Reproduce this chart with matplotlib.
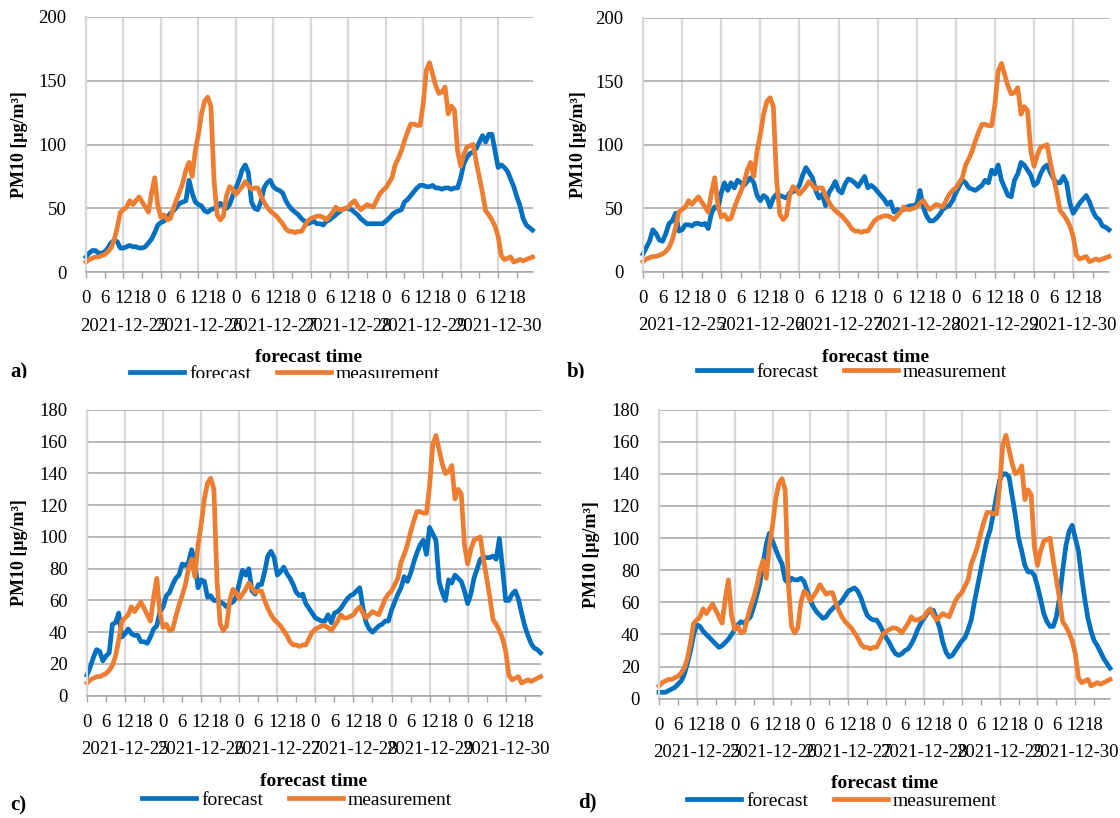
import numpy as np
import matplotlib
matplotlib.use("Agg")
import matplotlib.pyplot as plt
from matplotlib.patches import Rectangle

plt.rcParams['font.family'] = ['Liberation Serif', 'DejaVu Serif']

# hourly PM10 values, 2021-12-25 00:00 .. 2021-12-30 23:00
hours = np.arange(144)
days = ['2021-12-25', '2021-12-26', '2021-12-27', '2021-12-28', '2021-12-29', '2021-12-30']
hour_labels = ['0', '6', '12', '18']

measurement = [
    8, 10, 11, 12, 12, 13, 14, 16, 19, 25, 35, 47, 49, 51, 56, 53, 56, 59, 55, 51, 47, 62, 74, 52,
    43, 45, 41, 42, 50, 57, 63, 70, 80, 86, 75, 95, 108, 124, 134, 137, 130, 72, 45, 41, 44, 60, 67, 65,
    61, 64, 67, 71, 68, 65, 66, 66, 60, 55, 51, 48, 46, 44, 41, 38, 34, 32, 32, 31, 32, 32, 36, 40,
    42, 43, 44, 44, 43, 41, 44, 47, 51, 49, 49, 50, 51, 54, 56, 52, 49, 51, 53, 52, 51, 56, 61, 64,
    66, 70, 74, 84, 89, 95, 103, 110, 116, 116, 115, 115, 132, 158, 164, 155, 146, 140, 141, 145, 124, 130, 127, 95,
    83, 92, 98, 99, 100, 86, 74, 62, 48, 45, 41, 36, 28, 13, 10, 11, 12, 8, 9, 10, 9, 10, 11, 12,
]

forecast_a = [
    12, 15, 17, 17, 15, 15, 16, 19, 23, 25, 24, 19, 19, 20, 21, 20, 20, 19, 19, 20, 23, 26, 31, 37,
    39, 40, 43, 46, 48, 51, 54, 55, 56, 72, 62, 55, 53, 52, 48, 47, 49, 50, 51, 54, 52, 50, 53, 60,
    66, 72, 80, 84, 78, 55, 50, 49, 55, 66, 70, 72, 67, 65, 64, 62, 56, 52, 49, 47, 45, 42, 40, 38,
    39, 40, 38, 38, 37, 40, 41, 43, 45, 47, 49, 50, 50, 49, 47, 45, 42, 40, 38, 38, 38, 38, 38, 38,
    40, 42, 45, 47, 48, 49, 55, 57, 60, 63, 66, 68, 68, 67, 67, 68, 66, 66, 65, 66, 66, 65, 66, 66,
    74, 85, 90, 93, 94, 97, 102, 107, 102, 108, 108, 95, 82, 84, 82, 79, 73, 67, 59, 52, 42, 37, 35, 33,
]

forecast_b = [
    14, 19, 24, 33, 30, 25, 24, 30, 38, 40, 46, 32, 33, 37, 37, 36, 38, 38, 37, 38, 34, 46, 51, 50,
    62, 70, 64, 70, 66, 72, 70, 68, 71, 74, 70, 60, 56, 60, 58, 51, 58, 61, 60, 59, 58, 62, 63, 64,
    68, 76, 82, 78, 74, 64, 58, 61, 52, 62, 66, 71, 64, 62, 69, 73, 72, 70, 67, 71, 75, 66, 68, 66,
    63, 60, 57, 53, 55, 47, 49, 48, 49, 51, 52, 52, 53, 64, 51, 44, 40, 40, 42, 45, 49, 51, 52, 56,
    62, 67, 72, 70, 66, 65, 64, 66, 68, 72, 70, 80, 77, 84, 72, 66, 60, 59, 72, 77, 86, 84, 80, 76,
    68, 70, 77, 82, 84, 78, 73, 70, 70, 75, 70, 54, 46, 50, 54, 57, 60, 55, 48, 43, 41, 36, 35, 33,
]

forecast_c = [
    13, 18, 24, 29, 28, 22, 25, 27, 45, 46, 52, 37, 39, 42, 39, 38, 38, 34, 34, 33, 37, 42, 44, 53,
    56, 63, 65, 70, 74, 76, 83, 82, 84, 92, 84, 68, 73, 72, 62, 63, 60, 60, 59, 58, 56, 58, 59, 62,
    71, 79, 76, 80, 66, 64, 70, 70, 78, 88, 91, 87, 76, 78, 81, 77, 74, 70, 65, 63, 64, 58, 55, 52,
    49, 48, 47, 47, 51, 46, 52, 53, 55, 58, 61, 63, 64, 66, 68, 55, 46, 42, 40, 42, 44, 45, 47, 47,
    54, 59, 64, 68, 75, 72, 77, 84, 90, 95, 98, 89, 106, 102, 98, 72, 65, 60, 73, 71, 76, 74, 72, 66,
    58, 64, 74, 80, 86, 87, 87, 87, 88, 86, 99, 80, 60, 60, 64, 66, 61, 52, 44, 38, 33, 30, 29, 27,
]

forecast_d = [
    4, 4, 4, 5, 6, 7, 9, 11, 15, 22, 30, 40, 46, 45, 42, 40, 38, 36, 34, 32, 33, 35, 37, 40,
    43, 46, 48, 47, 49, 51, 57, 64, 72, 84, 96, 103, 98, 93, 88, 84, 74, 72, 75, 74, 74, 75, 73, 67,
    61, 57, 54, 52, 50, 51, 54, 56, 58, 59, 61, 64, 67, 68, 69, 67, 63, 57, 52, 50, 49, 49, 46, 42,
    38, 35, 31, 28, 27, 28, 30, 31, 34, 38, 43, 47, 50, 53, 55, 55, 50, 44, 35, 29, 26, 27, 30, 33,
    36, 38, 43, 49, 60, 70, 80, 90, 99, 105, 115, 126, 136, 140, 140, 138, 126, 114, 100, 92, 83, 79, 79, 77,
    70, 62, 53, 48, 45, 45, 51, 63, 80, 95, 104, 108, 100, 92, 76, 62, 50, 42, 36, 33, 29, 25, 22, 19,
]

BLUE = '#0070C0'
ORANGE = '#ED7D31'
W, H = 1120, 818


def fx(px):
    return px / W


def fy(py):
    return 1 - py / H


def draw_panel(fig, box, forecast, ymax, ystep, tag, tag_xy, ylabel_x, xlabel_xy, legend_xy):
    left, top, right, bottom = box
    ax = fig.add_axes([fx(left), fy(bottom), fx(right) - fx(left), fy(top) - fy(bottom)])

    ax.plot(hours, forecast, color=BLUE, lw=3.4, solid_joinstyle='round', label='forecast', clip_on=False)
    ax.plot(hours, measurement, color=ORANGE, lw=3.4, solid_joinstyle='round', label='measurement', clip_on=False)

    ax.set_xlim(0, 143)
    ax.set_ylim(0, ymax)

    ax.set_yticks(np.arange(0, ymax + 1, ystep))
    ax.tick_params(axis='y', length=0, pad=14, labelsize=13.5)
    ax.grid(axis='y', color='#A6A6A6', lw=1.1)

    ticks = np.arange(0, 144, 6)
    ax.set_xticks(ticks)
    ax.set_xticklabels([hour_labels[i % 4] for i in range(len(ticks))])
    ax.tick_params(axis='x', which='major', length=4, width=1, color='#A6A6A6', pad=9, labelsize=13.5)
    ax.xaxis.remove_overlapping_locs = False
    ax.set_xticks(np.arange(0, 144, 12), minor=True)
    ax.tick_params(axis='x', which='minor', length=0)
    ax.grid(axis='x', which='minor', color='#D9D9D9', lw=1.6)
    ax.set_axisbelow(True)

    # second row of category labels: the dates, centred on each day
    for k, d in enumerate(days):
        ax.annotate(d, xy=(12 + 24 * k, 0), xycoords=('data', 'axes fraction'),
                    xytext=(0, -54 * 72 / 100), textcoords='offset points',
                    ha='center', va='center', fontsize=13.5)

    for s in ['top', 'right']:
        ax.spines[s].set_visible(False)
    ax.spines['left'].set_color('#D9D9D9')
    ax.spines['left'].set_linewidth(1.6)
    ax.spines['bottom'].set_color('#A6A6A6')
    ax.spines['bottom'].set_linewidth(1.1)

    fig.text(fx(ylabel_x), fy((top + bottom) / 2), 'PM10 [μg/m³]', rotation=90,
             ha='center', va='center', fontsize=13, fontweight='bold')
    fig.text(fx(xlabel_xy[0]), fy(xlabel_xy[1]), 'forecast time',
             ha='center', va='center', fontsize=14, fontweight='bold')
    fig.text(fx(tag_xy[0]), fy(tag_xy[1]), tag, ha='left', va='center',
             fontsize=15, fontweight='bold')

    h, l = ax.get_legend_handles_labels()
    fig.legend(h, l, loc='center', bbox_to_anchor=(fx(legend_xy[0]), fy(legend_xy[1])),
               ncol=2, frameon=False, fontsize=14, handlelength=2.8,
               handletextpad=0.25, columnspacing=1.3, borderpad=0, borderaxespad=0)
    return ax


fig = plt.figure(figsize=(W / 100, H / 100), dpi=100)

draw_panel(fig, (86, 16.7, 532.5, 272.3), forecast_a, 200, 50, 'a)',
           (10, 372), 20, (309, 358), (285, 374))
draw_panel(fig, (643, 17.7, 1109, 271.7), forecast_b, 200, 50, 'b)',
           (567, 371), 578, (876, 358), (852, 372))
draw_panel(fig, (87, 410, 540.6, 695.7), forecast_c, 180, 20, 'c)',
           (10, 805), 20, (314, 781), (297, 800))
draw_panel(fig, (659, 409.6, 1110, 698.7), forecast_d, 180, 20, 'd)',
           (578, 802), 592, (885, 784), (842, 801))

# the top row is cut off just below its legends, as in the source figure
fig.patches.append(Rectangle((0, fy(399)), 1, fy(378) - fy(399), transform=fig.transFigure,
                             facecolor='white', edgecolor='none', zorder=100))

fig.savefig('out.png', dpi=100)
